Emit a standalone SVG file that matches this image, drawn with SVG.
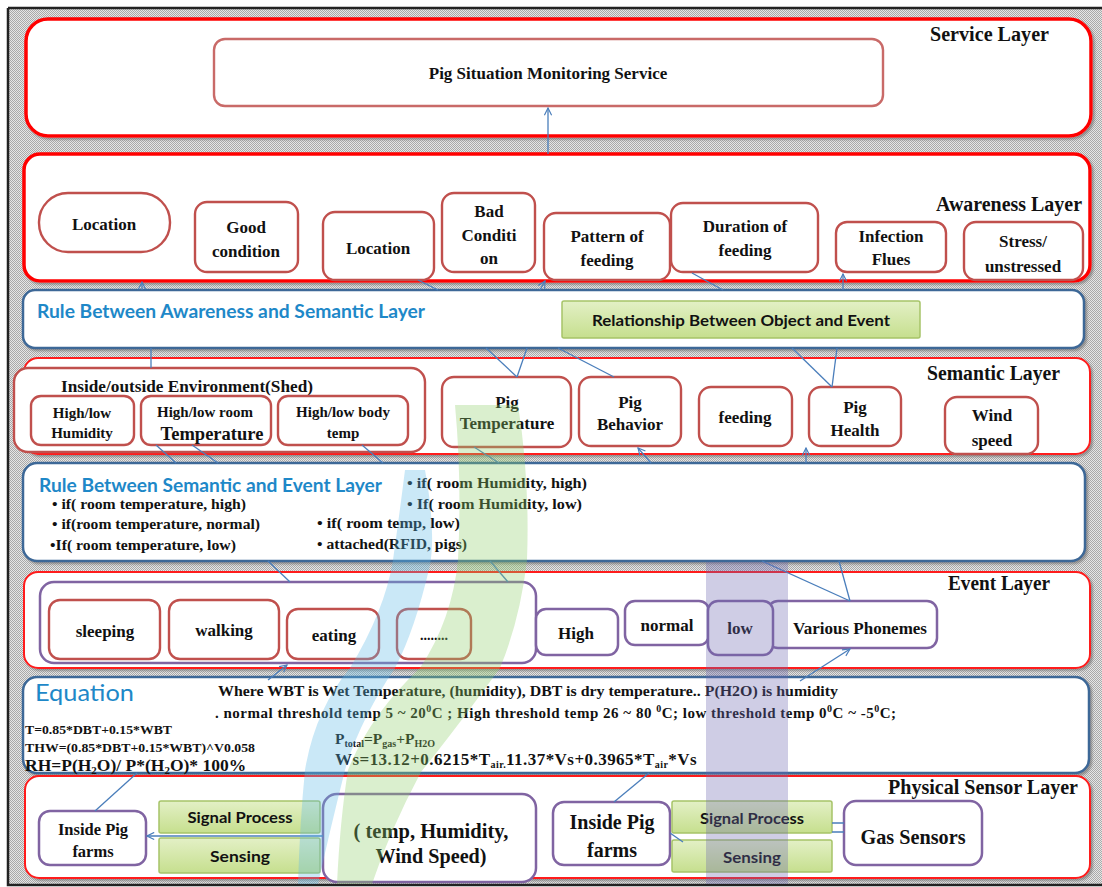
<svg xmlns="http://www.w3.org/2000/svg" width="1102" height="887" viewBox="0 0 1102 887">
  <defs>
    <pattern id="dots" width="2" height="2" patternUnits="userSpaceOnUse">
      <rect width="2" height="2" fill="#e6e6e6"/>
      <rect width="1" height="1" fill="#a9a9a9"/>
      <rect x="1" y="1" width="1" height="1" fill="#a9a9a9"/>
    </pattern>
    <linearGradient id="green" x1="0" y1="0" x2="0" y2="1">
      <stop offset="0" stop-color="#e3f0c6"/>
      <stop offset="1" stop-color="#c6df8e"/>
    </linearGradient>
    <filter id="shadow" x="-5%" y="-10%" width="110%" height="130%">
      <feDropShadow dx="2" dy="2" stdDeviation="1.2" flood-color="#777" flood-opacity="0.7"/>
    </filter>
    <marker id="arrow" viewBox="0 0 10 10" refX="9" refY="5" markerWidth="9" markerHeight="9" orient="auto" markerUnits="userSpaceOnUse">
      <path d="M1,1 L9,5 L1,9" fill="none" stroke="#4a7ebb" stroke-width="1.3"/>
    </marker>
    <style>
      .layer { fill: #fff; stroke: #ff0000; stroke-width: 3.5; }
      .layer-thin { fill: #fff; stroke: #ff1a1a; stroke-width: 2; }
      .rule { fill: #fff; stroke: #3c6797; stroke-width: 2.5; }
      .node { fill: #fff; stroke: #c0504d; stroke-width: 2.4; }
      .pnode { fill: #fff; stroke: #8064a2; stroke-width: 2.5; }
      .gnode { fill: url(#green); stroke: #a6c468; stroke-width: 1.5; }
      .lbl { font-family: "Liberation Serif", "Times New Roman", serif; font-weight: bold; font-size: 17px; fill: #111; text-anchor: middle; }
      .cap { font-family: "Liberation Serif", "Times New Roman", serif; font-weight: bold; font-size: 20px; fill: #111; }
      .rtxt { font-family: "Liberation Serif", "Times New Roman", serif; font-weight: bold; font-size: 15px; fill: #111; }
      .eq { font-family: "Liberation Serif", "Times New Roman", serif; font-weight: bold; fill: #111; }
      .title { font-family: "Lato", "Liberation Sans", sans-serif; font-weight: bold; fill: #1e88c8; }
      .sans { font-family: "Lato", "Liberation Sans", sans-serif; font-weight: bold; font-size: 15px; fill: #111; text-anchor: middle; }
      .wire { stroke: #4a7ebb; stroke-width: 1.3; fill: none; }
      .band { stroke: none; }
    </style>
  </defs>

  <!-- page background and frame -->
  <rect width="1102" height="887" fill="#fff"/>
  <rect x="8" y="8" width="1094" height="877" fill="url(#dots)"/>
  <path d="M8,8 H1102 M8,8 V885 H1102" stroke="#222" stroke-width="2.5" fill="none"/>

  <!-- Service layer -->
  <g id="service-layer">
    <rect class="layer" x="26" y="19" width="1065" height="117" rx="22" filter="url(#shadow)"/>
    <text class="cap" x="930" y="41" textLength="119" lengthAdjust="spacingAndGlyphs">Service Layer</text>
  </g>
  <g id="pig-situation-monitoring">
    <rect x="214" y="39" width="669" height="67" rx="11" fill="#fff" stroke="#c0504d" stroke-opacity="0.85" stroke-width="2.4"/>
    <text class="lbl" x="548" y="79">Pig Situation Monitoring Service</text>
  </g>

  <!-- Awareness layer -->
  <g id="awareness-layer">
    <rect class="layer" x="24" y="154" width="1066" height="127" rx="16" filter="url(#shadow)"/>
    <text class="cap" x="936" y="211" textLength="146" lengthAdjust="spacingAndGlyphs">Awareness Layer</text>
  </g>
  <g id="aw-location-1">
    <rect class="node" x="39" y="193" width="131" height="59" rx="29"/>
    <text class="lbl" x="104" y="230">Location</text>
  </g>
  <g id="aw-good-condition">
    <rect class="node" x="195" y="202" width="103" height="70" rx="12"/>
    <text class="lbl" x="246" y="233">Good</text>
    <text class="lbl" x="246" y="257">condition</text>
  </g>
  <g id="aw-location-2">
    <rect class="node" x="323" y="212" width="111" height="68" rx="12"/>
    <text class="lbl" x="378" y="254">Location</text>
  </g>
  <g id="aw-bad-condition">
    <rect class="node" x="442" y="193" width="93" height="79" rx="12"/>
    <text class="lbl" x="489" y="217">Bad</text>
    <text class="lbl" x="489" y="241">Conditi</text>
    <text class="lbl" x="489" y="264">on</text>
  </g>
  <g id="aw-pattern-feeding">
    <rect class="node" x="544" y="213" width="126" height="67" rx="12"/>
    <text class="lbl" x="607" y="242">Pattern of</text>
    <text class="lbl" x="607" y="266">feeding</text>
  </g>
  <g id="aw-duration-feeding">
    <rect class="node" x="671" y="203" width="147" height="69" rx="12"/>
    <text class="lbl" x="745" y="232">Duration of</text>
    <text class="lbl" x="745" y="256">feeding</text>
  </g>
  <g id="aw-infection-flues">
    <rect class="node" x="836" y="222" width="110" height="50" rx="11"/>
    <text class="lbl" x="891" y="242">Infection</text>
    <text class="lbl" x="891" y="265">Flues</text>
  </g>
  <g id="aw-stress">
    <rect class="node" x="964" y="222" width="119" height="58" rx="12"/>
    <text class="lbl" x="1023" y="247">Stress/</text>
    <text class="lbl" x="1023" y="272">unstressed</text>
  </g>

  <!-- Rule between awareness and semantic layer -->
  <g id="rule-awareness-semantic">
    <rect class="rule" x="23" y="290" width="1061" height="58" rx="12" filter="url(#shadow)"/>
    <text class="title" x="37" y="318" font-size="18" textLength="388" lengthAdjust="spacingAndGlyphs">Rule Between Awareness and Semantic Layer</text>
  </g>
  <g id="relationship-object-event">
    <rect class="gnode" x="562" y="301" width="358" height="37" rx="2"/>
    <text class="sans" x="741" y="326" textLength="298" lengthAdjust="spacingAndGlyphs">Relationship  Between Object and  Event</text>
  </g>

  <!-- Semantic layer -->
  <g id="semantic-layer">
    <rect class="layer-thin" x="24" y="358" width="1066" height="96" rx="14" filter="url(#shadow)"/>
    <text class="cap" x="927" y="380" textLength="133" lengthAdjust="spacingAndGlyphs">Semantic Layer</text>
  </g>
  <g id="sem-environment">
    <rect class="node" x="14" y="368" width="411" height="84" rx="14"/>
    <text class="rtxt" x="61" y="392" style="font-size:16px" textLength="252" lengthAdjust="spacingAndGlyphs">Inside/outside Environment(Shed)</text>
  </g>
  <g id="sem-humidity">
    <rect class="node" x="31" y="396" width="103" height="49" rx="10"/>
    <text class="lbl" x="82" y="418" style="font-size:15px">High/low</text>
    <text class="lbl" x="82" y="438" style="font-size:15px">Humidity</text>
  </g>
  <g id="sem-room-temp">
    <rect class="node" x="141" y="396" width="130" height="49" rx="10"/>
    <text class="lbl" x="205" y="417" style="font-size:15px">High/low room</text>
    <text class="lbl" x="212" y="440" style="font-size:18.5px">Temperature</text>
  </g>
  <g id="sem-body-temp">
    <rect class="node" x="278" y="396" width="130" height="49" rx="10"/>
    <text class="lbl" x="343" y="417" style="font-size:15px">High/low body</text>
    <text class="lbl" x="343" y="438" style="font-size:15px">temp</text>
  </g>
  <g id="sem-pig-temperature">
    <rect class="node" x="442" y="377" width="129" height="70" rx="12"/>
    <text class="lbl" x="507" y="408">Pig</text>
    <text class="lbl" x="507" y="429">Temperature</text>
  </g>
  <g id="sem-pig-behavior">
    <rect class="node" x="579" y="377" width="102" height="69" rx="12"/>
    <text class="lbl" x="630" y="408">Pig</text>
    <text class="lbl" x="630" y="430">Behavior</text>
  </g>
  <g id="sem-feeding">
    <rect class="node" x="699" y="387" width="93" height="59" rx="12"/>
    <text class="lbl" x="745" y="423">feeding</text>
  </g>
  <g id="sem-pig-health">
    <rect class="node" x="809" y="387" width="92" height="59" rx="12"/>
    <text class="lbl" x="855" y="413">Pig</text>
    <text class="lbl" x="855" y="436">Health</text>
  </g>
  <g id="sem-wind-speed">
    <rect class="node" x="945" y="397" width="93" height="57" rx="12"/>
    <text class="lbl" x="992" y="421">Wind</text>
    <text class="lbl" x="992" y="446">speed</text>
  </g>

  <!-- Rule between semantic and event layer -->
  <g id="rule-semantic-event">
    <rect class="rule" x="23" y="463" width="1062" height="98" rx="14" filter="url(#shadow)"/>
    <text class="title" x="39" y="492" font-size="18.5" textLength="343" lengthAdjust="spacingAndGlyphs">Rule Between Semantic and Event Layer</text>
    <text class="rtxt" x="52" y="509" textLength="194" lengthAdjust="spacingAndGlyphs">• if( room temperature, high)</text>
    <text class="rtxt" x="52" y="529" textLength="208" lengthAdjust="spacingAndGlyphs">• if(room temperature, normal)</text>
    <text class="rtxt" x="50" y="550" textLength="186" lengthAdjust="spacingAndGlyphs">•If( room temperature, low)</text>
    <text class="rtxt" x="407" y="488" textLength="180" lengthAdjust="spacingAndGlyphs">• if( room Humidity, high)</text>
    <text class="rtxt" x="407" y="509" textLength="175" lengthAdjust="spacingAndGlyphs">• If( room Humidity, low)</text>
    <text class="rtxt" x="317" y="528" textLength="143" lengthAdjust="spacingAndGlyphs">• if( room temp, low)</text>
    <text class="rtxt" x="317" y="549" textLength="150" lengthAdjust="spacingAndGlyphs">• attached(RFID, pigs)</text>
  </g>

  <!-- Event layer -->
  <g id="event-layer">
    <rect class="layer-thin" x="24" y="572" width="1066" height="96" rx="14" filter="url(#shadow)"/>
    <text class="cap" x="948" y="590" textLength="102" lengthAdjust="spacingAndGlyphs">Event Layer</text>
  </g>
  <g id="ev-behaviours">
    <rect class="pnode" x="40" y="582" width="496" height="81" rx="14"/>
  </g>
  <g id="ev-sleeping">
    <rect class="node" x="49" y="600" width="111" height="59" rx="11"/>
    <text class="lbl" x="105" y="637">sleeping</text>
  </g>
  <g id="ev-walking">
    <rect class="node" x="169" y="600" width="110" height="59" rx="11"/>
    <text class="lbl" x="224" y="636">walking</text>
  </g>
  <g id="ev-eating">
    <rect class="node" x="287" y="609" width="92" height="50" rx="11"/>
    <text class="lbl" x="334" y="641">eating</text>
  </g>
  <g id="ev-more">
    <rect class="node" x="397" y="609" width="74" height="50" rx="11"/>
    <text class="lbl" x="434" y="640" style="font-size:14px">........</text>
  </g>
  <g id="ev-high">
    <rect class="pnode" x="536" y="609" width="82" height="46" rx="10"/>
    <text class="lbl" x="576" y="639">High</text>
  </g>
  <g id="ev-various-phonemes">
    <rect class="pnode" x="768" y="601" width="169" height="47" rx="10"/>
    <text class="lbl" x="860" y="634">Various Phonemes</text>
  </g>
  <g id="ev-normal">
    <rect class="pnode" x="625" y="601" width="84" height="44" rx="10"/>
    <text class="lbl" x="667" y="631">normal</text>
  </g>
  <g id="ev-low">
    <rect class="pnode" x="708" y="601" width="65" height="54" rx="10"/>
    <text class="lbl" x="740" y="634">low</text>
  </g>

  <!-- Equation panel -->
  <g id="equation">
    <rect class="rule" x="23" y="677" width="1066" height="96" rx="14" filter="url(#shadow)"/>
    <text class="title" x="35" y="701" font-size="24" textLength="99" lengthAdjust="spacingAndGlyphs" style="font-weight:normal">Equation</text>
    <text class="rtxt" x="218" y="696" textLength="620" lengthAdjust="spacingAndGlyphs">Where  WBT is Wet Temperature, (humidity), DBT is dry temperature.. P(H2O) is humidity</text>
    <text class="rtxt" x="215" y="718" letter-spacing="0.5">. normal threshold temp 5 ~ 20<tspan font-size="10" dy="-6">0</tspan><tspan dy="6">C ; High threshold temp 26 ~  80 </tspan><tspan font-size="10" dy="-6">0</tspan><tspan dy="6">C; low threshold temp 0</tspan><tspan font-size="10" dy="-6">0</tspan><tspan dy="6">C ~ -5</tspan><tspan font-size="10" dy="-6">0</tspan><tspan dy="6">C;</tspan></text>
    <text class="eq" x="25" y="734" font-size="13" textLength="147" lengthAdjust="spacingAndGlyphs">T=0.85*DBT+0.15*WBT</text>
    <text class="eq" x="25" y="752" font-size="13" textLength="230" lengthAdjust="spacingAndGlyphs">THW=(0.85*DBT+0.15*WBT)^V0.058</text>
    <text class="eq" x="25" y="771" font-size="17.5">RH=P(H<tspan font-size="11" dy="3">2</tspan><tspan dy="-3">O)/ P*(H</tspan><tspan font-size="11" dy="3">2</tspan><tspan dy="-3">O)* 100%</tspan></text>
    <text class="eq" x="335" y="744" font-size="15.5">P<tspan font-size="10" dy="3">total</tspan><tspan dy="-3">=P</tspan><tspan font-size="10" dy="3">gas</tspan><tspan dy="-3">+P</tspan><tspan font-size="10" dy="3">H2O</tspan></text>
    <text class="eq" x="335" y="765" font-size="17" letter-spacing="0.45">Ws=13.12+0.6215*T<tspan font-size="10" dy="3">air.</tspan><tspan dy="-3">11.37*Vs+0.3965*T</tspan><tspan font-size="10" dy="3">air</tspan><tspan dy="-3">*Vs</tspan></text>
  </g>

  <!-- Physical sensor layer -->
  <g id="physical-sensor-layer">
    <rect class="layer-thin" x="25" y="776" width="1065" height="102" rx="14" filter="url(#shadow)"/>
    <text class="cap" x="888" y="794" textLength="190" lengthAdjust="spacingAndGlyphs">Physical Sensor Layer</text>
  </g>
  <g id="ps-inside-farms-1">
    <rect class="pnode" x="39" y="811" width="107" height="54" rx="11"/>
    <text class="lbl" x="93" y="835" style="font-size:16.5px">Inside Pig</text>
    <text class="lbl" x="93" y="857" style="font-size:16.5px">farms</text>
  </g>
  <g id="ps-signal-process-1">
    <rect class="gnode" x="159" y="801" width="161" height="32" rx="2"/>
    <text class="sans" x="240" y="823" textLength="105" lengthAdjust="spacingAndGlyphs">Signal Process</text>
  </g>
  <g id="ps-sensing-1">
    <rect class="gnode" x="159" y="838" width="161" height="35" rx="2"/>
    <text class="sans" x="240" y="862" textLength="60" lengthAdjust="spacingAndGlyphs">Sensing</text>
  </g>
  <g id="ps-env-sensors">
    <rect class="pnode" x="323" y="794" width="213" height="88" rx="14"/>
    <text class="lbl" x="431" y="838" style="font-size:21px" textLength="155" lengthAdjust="spacingAndGlyphs">( temp, Humidity,</text>
    <text class="lbl" x="431" y="863" style="font-size:21px" textLength="111" lengthAdjust="spacingAndGlyphs">Wind Speed)</text>
  </g>
  <g id="ps-inside-farms-2">
    <rect class="pnode" x="553" y="802" width="117" height="63" rx="11"/>
    <text class="lbl" x="612" y="829" style="font-size:20px" textLength="85" lengthAdjust="spacingAndGlyphs">Inside Pig</text>
    <text class="lbl" x="612" y="857" style="font-size:20px">farms</text>
  </g>
  <g id="ps-signal-process-2">
    <rect class="gnode" x="672" y="801" width="160" height="32" rx="2"/>
    <text class="sans" x="752" y="824" textLength="104" lengthAdjust="spacingAndGlyphs">Signal Process</text>
  </g>
  <g id="ps-sensing-2">
    <rect class="gnode" x="672" y="840" width="160" height="32" rx="2"/>
    <text class="sans" x="752" y="863" textLength="58" lengthAdjust="spacingAndGlyphs">Sensing</text>
  </g>
  <g id="ps-gas-sensors">
    <rect class="pnode" x="844" y="801" width="138" height="64" rx="12"/>
    <text class="lbl" x="913" y="844" style="font-size:21px" textLength="105" lengthAdjust="spacingAndGlyphs">Gas Sensors</text>
  </g>

  <!-- Connectors -->
  <g id="connectors">
    <path class="wire" d="M548,154 L548,108" marker-end="url(#arrow)"/>
    <path class="wire" d="M142,290 L142,282" marker-end="url(#arrow)"/>
    <path class="wire" d="M418,280 L438,290"/>
    <path class="wire" d="M540,290 L545,281" marker-end="url(#arrow)"/>
    <path class="wire" d="M692,273 L723,290"/>
    <path class="wire" d="M843,290 L843,274" marker-end="url(#arrow)"/>
    <path class="wire" d="M151,348 L151,368"/>
    <path class="wire" d="M486,348 L517,377"/>
    <path class="wire" d="M527,348 L517,377"/>
    <path class="wire" d="M558,348 L614,377"/>
    <path class="wire" d="M792,348 L832,387"/>
    <path class="wire" d="M837,348 L832,387"/>
    <path class="wire" d="M156,445 L176,463"/>
    <path class="wire" d="M192,445 L218,463"/>
    <path class="wire" d="M362,445 L383,463"/>
    <path class="wire" d="M474,447 L499,463"/>
    <path class="wire" d="M651,463 L638,448" marker-end="url(#arrow)"/>
    <path class="wire" d="M806,463 L806,448" marker-end="url(#arrow)"/>
    <path class="wire" d="M268,561 L290,582"/>
    <path class="wire" d="M490,561 L508,582"/>
    <path class="wire" d="M762,561 L850,601"/>
    <path class="wire" d="M839,561 L850,601"/>
    <path class="wire" d="M268,680 L287,665" marker-end="url(#arrow)"/>
    <path class="wire" d="M800,681 L850,649" marker-end="url(#arrow)"/>
    <path class="wire" d="M137,773 L95,811"/>
    <path class="wire" d="M649,773 L614,802"/>
    <path class="wire" d="M323,836 L147,836" marker-end="url(#arrow)"/>
    <path class="wire" d="M670,833 L683,842"/>
    <path class="wire" d="M832,823 L844,823 M832,832 L844,832"/>
  </g>

  <!-- translucent colour bands over the lower layers -->
  <g id="bands">
    <path class="band" fill="#5db8e8" fill-opacity="0.33" d="M405,470 L425,470 Q436,530 430,565 Q415,630 395,668 Q360,720 345,770 Q330,830 318,884 L298,884 Q300,820 305,770 Q315,710 350,668 Q385,610 393,560 Q400,510 405,470 Z"/>
    <path class="band" fill="#8fcf6a" fill-opacity="0.33" d="M455,405 L518,405 Q530,480 527,560 Q520,620 500,668 Q455,730 421,772 Q390,830 372,884 L337,884 Q340,820 348,770 Q370,715 420,668 Q452,620 458,560 Q462,480 455,405 Z"/>
    <rect class="band" x="706" y="562" width="82" height="322" fill="#6e66b0" fill-opacity="0.33"/>
  </g>
</svg>
